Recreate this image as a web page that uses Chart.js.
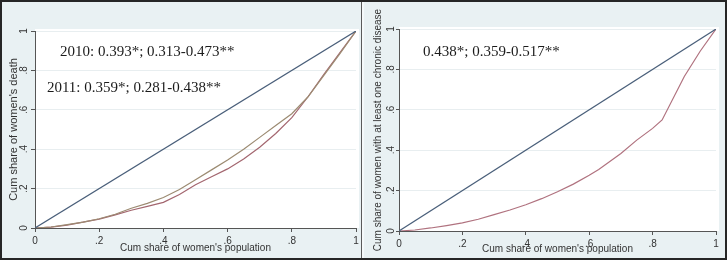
<!DOCTYPE html>
<html lang="en">
<head>
  <meta charset="UTF-8">
  <title>Concentration curves</title>
  <script src="https://cdn.jsdelivr.net/npm/chart.js"></script>
  <style>
    body { margin: 0; background: #fff; }
    #frame { position: relative; width: 723px; height: 256px; border: 2px solid #262626; background: #f5f9fa; }
    .panel { position: absolute; top: 0; height: 256px; background: #e9f1f3; }
    #leftBox { left: 0; width: 359px; }
    #sep { position: absolute; left: 359px; top: 0; width: 1px; height: 256px; background: #5a5a5a; }
    #rightBox { left: 362px; width: 361px; }
    canvas { display: block; }
  </style>
</head>
<body>
  <div id="frame">
    <div class="panel" id="leftBox"><canvas id="deathChart" width="359" height="256"></canvas></div>
    <div id="sep"></div>
    <div class="panel" id="rightBox"><canvas id="diseaseChart" width="361" height="256"></canvas></div>
  </div>

  <script>
    // equality line
    const diagX = [0, 1];
    const diagY = [0, 1];

    // left panel: women's death, 2010 and 2011
    const popShare = [0, 0.05, 0.1, 0.15, 0.2, 0.25, 0.3, 0.35, 0.4, 0.45, 0.5, 0.55, 0.6, 0.65, 0.7, 0.75, 0.8, 0.85, 0.9, 0.95, 1];
    const death2010 = [0, 0.005, 0.017, 0.03, 0.047, 0.07, 0.1, 0.125, 0.155, 0.195, 0.245, 0.295, 0.345, 0.4, 0.46, 0.52, 0.58, 0.665, 0.775, 0.885, 1];
    const death2011 = [0, 0.004, 0.015, 0.03, 0.045, 0.067, 0.09, 0.11, 0.13, 0.17, 0.22, 0.26, 0.3, 0.35, 0.41, 0.48, 0.56, 0.665, 0.78, 0.89, 1];

    // right panel: women with at least one chronic disease
    const popShareR = [0, 0.05, 0.1, 0.15, 0.2, 0.25, 0.3, 0.35, 0.4, 0.45, 0.5, 0.55, 0.6, 0.63, 0.7, 0.75, 0.8, 0.83, 0.9, 0.95, 1];
    const chronic = [0, 0.005, 0.015, 0.027, 0.04, 0.058, 0.081, 0.104, 0.13, 0.16, 0.194, 0.232, 0.276, 0.305, 0.384, 0.45, 0.508, 0.55, 0.765, 0.89, 1];

    const tickValues = [0, 0.2, 0.4, 0.6, 0.8, 1];
    const tickLabels = ['0', '.2', '.4', '.6', '.8', '1'];

    const xTitle = "Cum share of women's population";
    const leftYTitle = "Cum share of women's death";
    const rightYTitle = 'Cum share of women with at least one chronic disease';

    const leftNotes = ['2010: 0.393*; 0.313-0.473**', '2011: 0.359*; 0.281-0.438**'];
    const rightNotes = ['0.438*; 0.359-0.517**'];

    function pts(xs, ys) {
      return xs.map((x, i) => ({ x: x, y: ys[i] }));
    }

    function line(label, xs, ys, color) {
      return {
        label: label,
        data: pts(xs, ys),
        borderColor: color,
        borderWidth: 1.2,
        pointRadius: 0,
        showLine: true,
        fill: false,
        tension: 0
      };
    }

    function tickText(v) {
      const i = tickValues.findIndex(t => Math.abs(t - v) < 1e-6);
      return i >= 0 ? tickLabels[i] : '';
    }

    const plotBg = {
      id: 'plotBg',
      beforeDraw(chart) {
        const a = chart.chartArea;
        const c = chart.ctx;
        c.save();
        c.fillStyle = '#ffffff';
        c.fillRect(a.left, a.top - 2, a.right - a.left + 3, a.bottom - a.top + 2);
        c.restore();
      }
    };

    const notes = {
      id: 'notes',
      afterDatasetsDraw(chart, args, opts) {
        const c = chart.ctx;
        const xs = chart.scales.x, ys = chart.scales.y;
        c.save();
        c.font = '15px "Liberation Serif", "Times New Roman", serif';
        c.fillStyle = '#1b1b1b';
        c.textAlign = 'left';
        c.textBaseline = 'middle';
        (opts.items || []).forEach(it => {
          c.fillText(it.text, xs.getPixelForValue(it.x), ys.getPixelForValue(it.y));
        });
        c.restore();
      }
    };

    function makeChart(id, datasets, g) {
      return new Chart(document.getElementById(id), {
        type: 'scatter',
        data: { datasets: datasets },
        plugins: [plotBg, notes],
        options: {
          responsive: false,
          animation: false,
          layout: { padding: { left: 0, right: g.padRight, top: g.padTop, bottom: 0 } },
          plugins: {
            legend: { display: false },
            tooltip: { enabled: false },
            notes: { items: g.notes }
          },
          scales: {
            x: {
              type: 'linear', min: 0, max: 1,
              afterBuildTicks: s => { s.ticks = tickValues.map(v => ({ value: v })); },
              afterFit: s => { s.height = g.xHeight; s.paddingLeft = 0; s.paddingRight = 0; },
              ticks: {
                callback: tickText, color: '#333', padding: 3,
                font: { family: '"Liberation Sans", Arial, sans-serif', size: 10 },
                maxRotation: 0, autoSkip: false
              },
              grid: { drawOnChartArea: false, tickLength: 4, tickColor: '#555' },
              border: { color: '#555', width: 1 },
              title: {
                display: true, text: xTitle, color: '#333',
                font: { family: '"Liberation Sans", Arial, sans-serif', size: 10 },
                padding: { top: 0, bottom: g.xTitlePad }
              }
            },
            y: {
              type: 'linear', min: 0, max: 1,
              afterBuildTicks: s => { s.ticks = tickValues.map(v => ({ value: v })); },
              afterFit: s => { s.width = g.yWidth; s.paddingTop = 0; s.paddingBottom = 0; },
              ticks: {
                callback: tickText, color: '#333', padding: g.yTickPad,
                font: { family: '"Liberation Sans", Arial, sans-serif', size: 10 },
                minRotation: 90, maxRotation: 90, crossAlign: 'center', autoSkip: false
              },
              grid: { color: '#e8eef0', lineWidth: 1, tickLength: g.yTickLen, tickColor: '#555' },
              border: { color: '#555', width: 1 },
              title: {
                display: true, text: g.yTitle, color: '#333',
                font: { family: '"Liberation Sans", Arial, sans-serif', size: g.yTitleSize },
                padding: { top: g.yTitlePad, bottom: 0 }
              }
            }
          }
        }
      });
    }

    makeChart('deathChart', [
      line('Equality', diagX, diagY, '#4a5f7a'),
      line('2010', popShare, death2010, '#9c8b72'),
      line('2011', popShare, death2011, '#a3666f')
    ], {
      padRight: 5, padTop: 29, xHeight: 30, yWidth: 33, yTickPad: 3, yTickLen: 4,
      xTitlePad: 4, yTitle: leftYTitle, yTitleSize: 11, yTitlePad: 5,
      notes: [
        { text: leftNotes[0], x: 0.078, y: 0.893 },
        { text: leftNotes[1], x: 0.037, y: 0.711 }
      ]
    });

    makeChart('diseaseChart', [
      line('Equality', diagX, diagY, '#4a5f7a'),
      line('Chronic disease', popShareR, chronic, '#b0727f')
    ], {
      padRight: 9, padTop: 27, xHeight: 27, yWidth: 35, yTickPad: 1, yTickLen: 3,
      xTitlePad: 3, yTitle: rightYTitle, yTitleSize: 10, yTitlePad: 8,
      notes: [
        { text: rightNotes[0], x: 0.076, y: 0.886 }
      ]
    });
  </script>
</body>
</html>
